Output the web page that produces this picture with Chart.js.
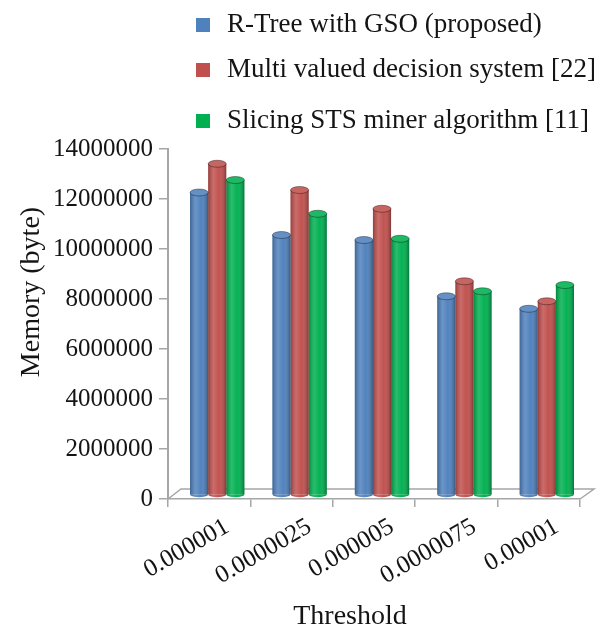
<!DOCTYPE html>
<html lang="en">
<head>
<meta charset="UTF-8">
<title>Memory usage by threshold</title>
<script src="https://cdn.jsdelivr.net/npm/chart.js@4.4.1/dist/chart.umd.min.js"></script>
<style>
    * { margin: 0; padding: 0; box-sizing: border-box; }
    body { background: #fff; }
    .chart-box { position: relative; width: 604px; height: 628px; }
</style>
</head>
<body>
<div class="chart-box"><canvas id="memoryChart"></canvas></div>
<script>
    // Data
    const thresholds = ['0.000001', '0.0000025', '0.000005', '0.0000075', '0.00001'];
    const seriesNames = ['R-Tree with GSO (proposed)', 'Multi valued decision system [22]', 'Slicing STS miner algorithm [11]'];
    const rtreeGso    = [12100000, 10400000, 10200000, 7950000, 7450000];
    const multiValued = [13250000, 12200000, 11450000, 8550000, 7750000];
    const slicingSts  = [12600000, 11250000, 10250000, 8150000, 8400000];
    const yTicks = [0, 2000000, 4000000, 6000000, 8000000, 10000000, 12000000, 14000000];

    const seriesColors = ['#4F81BD', '#C0504D', '#00B050'];
    const SERIF = "'Liberation Serif', 'Times New Roman', serif";
    const TEXT = '#141414';
    const AXIS = '#a6a6a6';

    // bars stand half way into the 3D floor
    const DEPTH_X = 8, DEPTH_Y = -4;

    const cylinderBars = {
        id: 'cylinderBars',
        beforeDatasetsDraw(chart) {
            const { ctx, chartArea: a } = chart;
            // floor outline behind the columns
            ctx.save();
            ctx.strokeStyle = AXIS;
            ctx.lineWidth = 1.5;
            ctx.beginPath();
            ctx.moveTo(a.left, a.bottom);
            ctx.lineTo(a.left + 13, a.bottom - 10);
            ctx.lineTo(a.right + 14, a.bottom - 10);
            ctx.lineTo(a.right, a.bottom);
            ctx.stroke();
            ctx.restore();

            ctx.save();
            ctx.translate(DEPTH_X, DEPTH_Y);
        },
        afterDatasetsDraw(chart) {
            const ctx = chart.ctx;
            chart.data.datasets.forEach((ds, i) => {
                chart.getDatasetMeta(i).data.forEach(bar => {
                    const { x, y, base, width } = bar.getProps(['x', 'y', 'base', 'width'], true);
                    const l = x - width / 2;
                    const shade = ctx.createLinearGradient(l, 0, l + width, 0);
                    shade.addColorStop(0, 'rgba(0,0,0,0.22)');
                    shade.addColorStop(0.3, 'rgba(255,255,255,0.16)');
                    shade.addColorStop(0.6, 'rgba(255,255,255,0.02)');
                    shade.addColorStop(1, 'rgba(0,0,0,0.32)');

                    // rounded foot
                    ctx.beginPath();
                    ctx.ellipse(x, base, width / 2, 3, 0, 0, Math.PI);
                    ctx.fillStyle = ds.backgroundColor;
                    ctx.fill();

                    ctx.fillStyle = shade;
                    ctx.fillRect(l, y, width, base - y);
                    ctx.beginPath();
                    ctx.ellipse(x, base, width / 2, 3, 0, 0, Math.PI);
                    ctx.fill();

                    // top cap
                    ctx.beginPath();
                    ctx.ellipse(x, y, width / 2, 3.5, 0, 0, Math.PI * 2);
                    ctx.fillStyle = ds.backgroundColor;
                    ctx.fill();
                    ctx.fillStyle = 'rgba(255,255,255,0.12)';
                    ctx.fill();
                    ctx.strokeStyle = 'rgba(0,0,0,0.35)';
                    ctx.lineWidth = 1;
                    ctx.stroke();
                });
            });
            ctx.restore();
        }
    };

    // legend stacked in one column above the plot
    const stackedLegend = {
        id: 'stackedLegend',
        afterDraw(chart, args, opts) {
            const ctx = chart.ctx;
            ctx.save();
            ctx.font = `27px ${SERIF}`;
            ctx.textBaseline = 'alphabetic';
            ctx.textAlign = 'left';
            chart.data.datasets.forEach((ds, i) => {
                const b = opts.baselines[i];
                ctx.fillStyle = ds.backgroundColor;
                ctx.fillRect(opts.boxX, b - 14, 14, 14);
                ctx.fillStyle = TEXT;
                ctx.fillText(ds.label, opts.textX, b);
            });
            ctx.restore();
        }
    };

    const axisTitles = {
        id: 'axisTitles',
        afterDraw(chart, args, opts) {
            const ctx = chart.ctx;
            ctx.save();
            ctx.font = `28px ${SERIF}`;
            ctx.fillStyle = TEXT;
            ctx.textAlign = 'center';
            ctx.textBaseline = 'alphabetic';
            ctx.fillText(opts.x.text, opts.x.cx, opts.x.baseline);
            ctx.translate(opts.y.baseline, opts.y.cy);
            ctx.rotate(-Math.PI / 2);
            ctx.fillText(opts.y.text, 0, 0);
            ctx.restore();
        }
    };

    new Chart(document.getElementById('memoryChart'), {
        type: 'bar',
        data: {
            labels: thresholds,
            datasets: [rtreeGso, multiValued, slicingSts].map((values, i) => ({
                label: seriesNames[i],
                data: values,
                backgroundColor: seriesColors[i],
                borderWidth: 0,
                clip: false
            }))
        },
        options: {
            responsive: true,
            maintainAspectRatio: false,
            animation: false,
            devicePixelRatio: 1,
            layout: { padding: { top: 149, right: 24, bottom: 0, left: 0 } },
            datasets: { bar: { categoryPercentage: 0.66, barPercentage: 1 } },
            plugins: {
                legend: { display: false },
                tooltip: { enabled: false },
                stackedLegend: { boxX: 196, textX: 227, baselines: [32, 77, 128] },
                axisTitles: {
                    x: { text: 'Threshold', cx: 350, baseline: 624 },
                    y: { text: 'Memory (byte)', cy: 292, baseline: 39 }
                }
            },
            scales: {
                x: {
                    afterFit(scale) { scale.height = 129; },
                    grid: { drawOnChartArea: false, offset: true, tickLength: 8, color: AXIS, lineWidth: 1.5 },
                    border: { color: AXIS, width: 1.5 },
                    ticks: {
                        color: TEXT,
                        font: { family: SERIF, size: 25 },
                        minRotation: 30,
                        maxRotation: 30,
                        autoSkip: false,
                        labelOffset: 18,
                        padding: 5
                    }
                },
                y: {
                    min: 0,
                    max: 14000000,
                    afterFit(scale) { scale.width = 168; },
                    afterBuildTicks(scale) { scale.ticks = yTicks.map(v => ({ value: v })); },
                    grid: { drawOnChartArea: false, tickLength: 9, color: AXIS, lineWidth: 1.5 },
                    border: { color: AXIS, width: 2 },
                    ticks: {
                        color: TEXT,
                        font: { family: SERIF, size: 25 },
                        padding: 6,
                        callback: v => String(v)
                    }
                }
            }
        },
        plugins: [cylinderBars, stackedLegend, axisTitles]
    });
</script>
</body>
</html>
